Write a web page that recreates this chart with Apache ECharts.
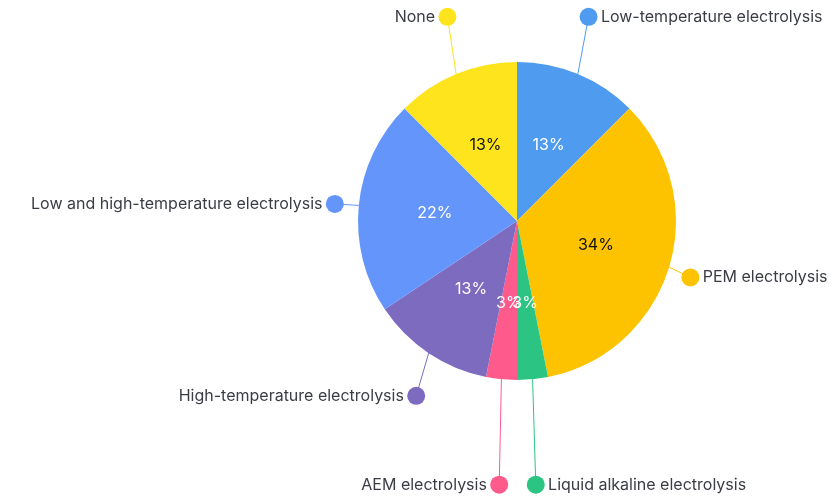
<!DOCTYPE html>
<html>
<head>
<meta charset="utf-8">
<script src="https://cdn.jsdelivr.net/npm/echarts@6/dist/echarts.min.js"></script>
<style>html,body{margin:0;padding:0;background:#fff}#c{width:840px;height:496px}</style>
</head>
<body>
<div id="c"></div>
<script>
const categories = ['Low-temperature electrolysis','PEM electrolysis','Liquid alkaline electrolysis','AEM electrolysis','High-temperature electrolysis','Low and high-temperature electrolysis','None'];
const values = [4, 11, 1, 1, 4, 7, 4];
const colors = ['#4e9bef','#fdc300','#2cc483','#ff5a8c','#7d6bc0','#6495fb','#fde41c'];
const insideTextColors = ['#ffffff','#111111','#ffffff','#ffffff','#ffffff','#ffffff','#111111'];
const lineLengths = [62, 18, 104, 104, 44, 15, 62];
const labelShiftX = [-22, -5, -16, 17, 21, 0, 24];
const labelShiftY = [0, 5, 2, 2, 6, 0, 0];
const DOT = 18;

const total = values.reduce((a,b)=>a+b,0);
let cum = 0;
const sides = values.map(v => { const mid = (cum + v/2)/total; cum += v; return mid < 0.5 ? 'right' : 'left'; });

const FONT = 'Inter';
const rich = { t: { fontFamily: FONT, fontSize: 16, color: '#3a3d44' } };
colors.forEach((c,i) => { rich['d'+i] = { width: DOT, height: DOT, borderRadius: DOT/2, backgroundColor: c }; });

const chart = echarts.init(document.getElementById('c'));
chart.setOption({
  animation: false,
  series: [
    {
      type: 'pie',
      center: [517, 221],
      radius: [0, 159],
      startAngle: 90,
      avoidLabelOverlap: false,
      labelLayout: { hideOverlap: false },
      data: categories.map((n,i)=>({ name: n, value: values[i], itemStyle: { color: colors[i] },
        label: { color: insideTextColors[i] } })),
      label: {
        position: 'inside',
        fontFamily: FONT,
        fontSize: 16,
        formatter: p => Math.round(p.value / total * 100) + '%'
      },
      labelLine: { show: false },
      emphasis: { disabled: true }
    },
    {
      type: 'pie',
      center: [517, 221],
      radius: [0, 159],
      startAngle: 90,
      silent: true,
      itemStyle: { color: 'rgba(0,0,0,0)' },
      data: categories.map((n,i)=>({ name: n, value: values[i],
        labelLine: { length: lineLengths[i], length2: 0, lineStyle: { color: colors[i], width: 1 } } })),
      label: {
        show: true,
        position: 'outside',
        alignTo: 'none',
        distanceToLabelLine: 0,
        formatter: p => sides[p.dataIndex] === 'right'
          ? '{d' + p.dataIndex + '|} {t|' + p.name + '}'
          : '{t|' + p.name + '} {d' + p.dataIndex + '|}',
        rich: rich
      },
      labelLine: { show: true, smooth: false },
      avoidLabelOverlap: false,
      labelLayout: p => {
        const i = p.dataIndex;
        const dx = labelShiftX[i], dy = labelShiftY[i];
        const toCenter = sides[i] === 'right' ? DOT/2 : -DOT/2;
        const res = { dx: dx, dy: dy, hideOverlap: false };
        if (p.labelLinePoints) {
          res.labelLinePoints = p.labelLinePoints.map((pt, k) => k === 0 ? [pt[0], pt[1]]
            : [pt[0] + dx + toCenter, pt[1] + dy]);
        }
        return res;
      },
      emphasis: { disabled: true }
    }
  ]
});
</script>
</body>
</html>
